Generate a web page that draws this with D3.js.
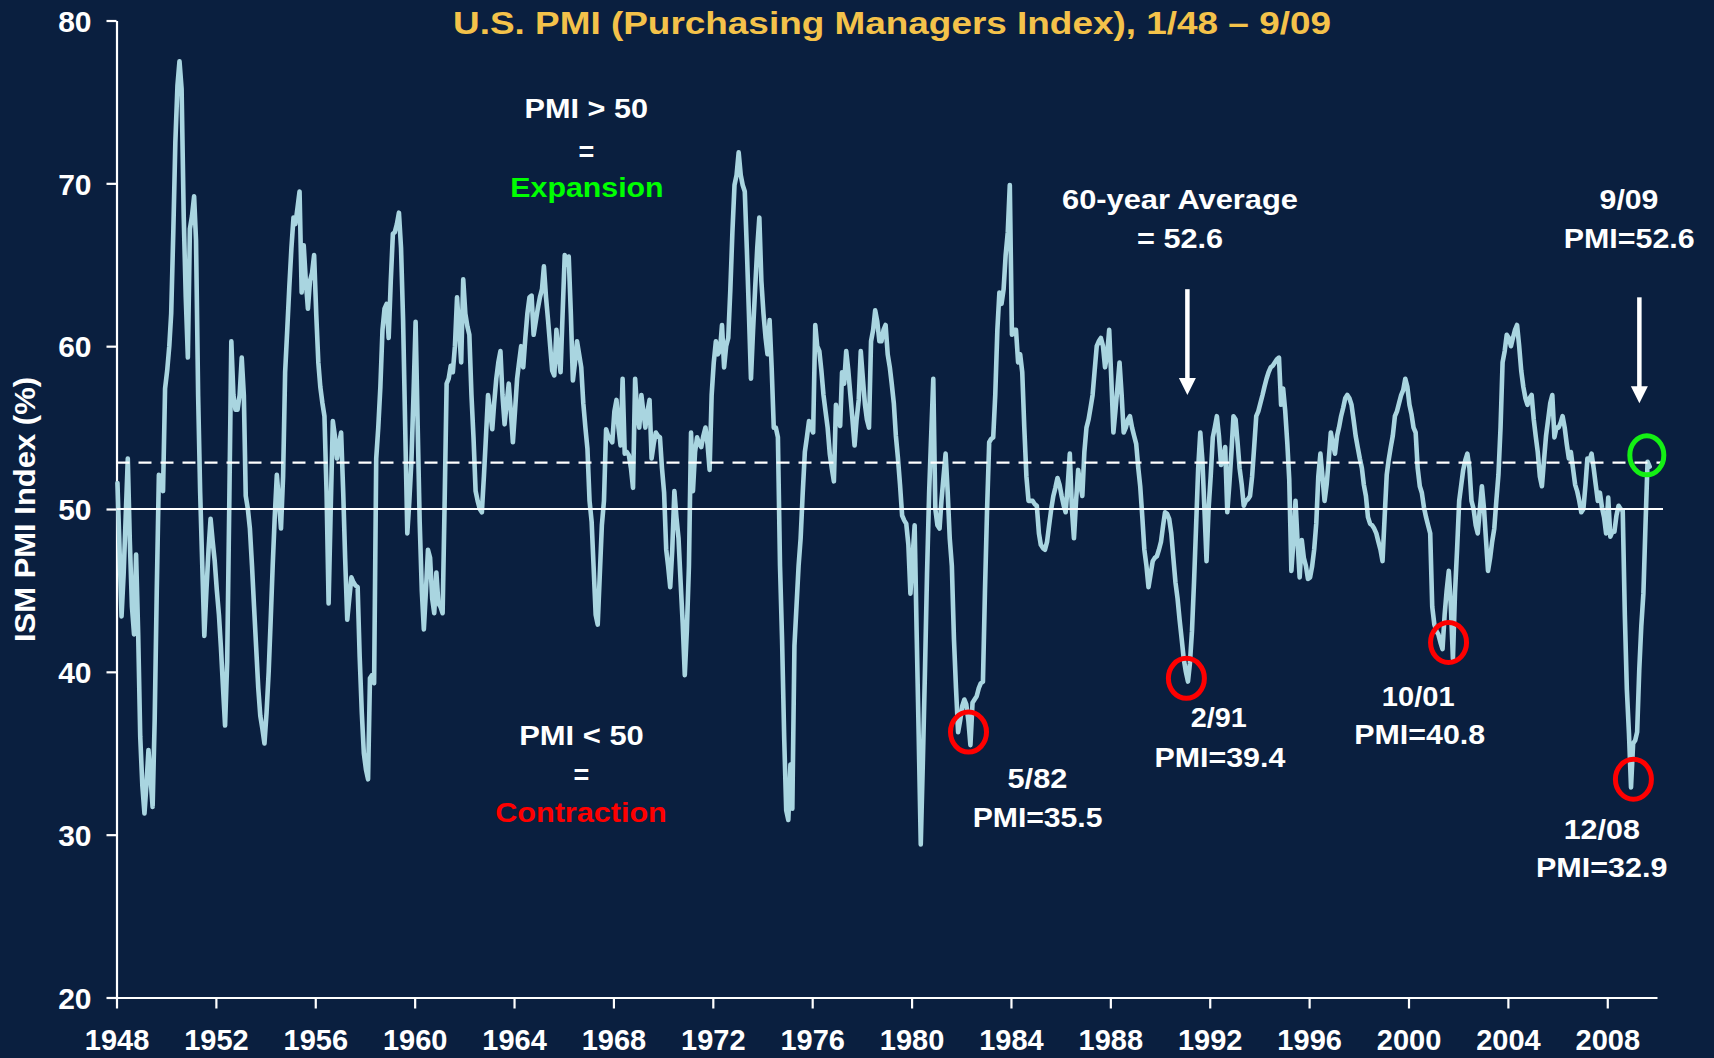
<!DOCTYPE html>
<html>
<head>
<meta charset="utf-8">
<script src="https://cdn.jsdelivr.net/npm/d3@7"></script>
<style>
  html, body { margin: 0; padding: 0; background: #0a1f3f; }
  svg { display: block; }
  text { font-family: "Liberation Sans", Arial, Helvetica, sans-serif; font-weight: bold; }
</style>
</head>
<body>
<svg id="chart" width="1714" height="1058"></svg>
<script>
// ---------------- DATA (monthly ISM PMI, 1/1948 - 9/2009) ----------------
const startYear = 1948;
const pmi1940s = [
  51.6, 47.5, 43.4, 46.0, 49.5, 53.1, 48.0, 44.0, 42.3, 47.2, 42.3, 36.0,   // 1948
  33.0, 31.3, 33.0, 35.2, 33.5, 31.7, 37.0, 45.0, 52.1, 52.0, 51.1, 57.4    // 1949
];
const pmi1950s = [
  58.5, 60.0, 62.0, 67.0, 72.5, 76.0, 77.5, 75.8, 68.0, 63.0, 59.3, 67.2,   // 1950
  68.0, 69.2, 66.5, 57.0, 51.0, 46.5, 42.2, 45.0, 47.5, 49.4, 48.0, 46.8,   // 1951
  45.0, 43.5, 41.5, 39.0, 36.7, 40.6, 50.0, 60.3, 57.0, 56.1, 56.1, 57.0,   // 1952
  59.3, 57.0, 50.8, 50.0, 48.8, 46.5, 44.0, 41.5, 39.0, 37.3, 36.5, 35.6,   // 1953
  37.5, 40.0, 43.0, 46.5, 49.5, 52.1, 50.5, 48.8, 52.0, 58.4, 61.0, 63.6,   // 1954
  66.0, 67.9, 67.5, 68.5, 69.5, 63.3, 66.2, 64.0, 62.3, 64.0, 64.5, 65.6,   // 1955
  62.0, 59.0, 57.5, 56.5, 55.7, 51.0, 44.2, 50.0, 55.4, 54.5, 53.1, 54.0,   // 1956
  54.7, 51.0, 47.0, 43.2, 44.5, 45.8, 45.5, 45.3, 45.2, 40.9, 37.5, 35.0,   // 1957
  34.0, 33.4, 39.6, 39.8, 39.3, 53.1, 55.0, 57.5, 61.0, 62.3, 62.6, 60.5,   // 1958
  64.0, 66.9, 67.0, 67.5, 68.2, 66.0, 61.6, 55.0, 48.5, 50.5, 53.0, 57.0    // 1959
];
const pmi1960s = [
  61.5, 55.0, 49.2, 45.0, 42.6, 45.0, 47.5, 47.0, 44.5, 43.6, 46.1, 44.2,   // 1960
  44.0, 43.6, 50.0, 57.7, 58.0, 58.8, 58.4, 60.0, 63.0, 61.0, 59.0, 64.1,   // 1961
  62.0, 61.2, 60.7, 57.0, 54.4, 51.1, 50.5, 50.0, 49.8, 52.0, 54.5, 57.0,   // 1962
  56.0, 54.9, 56.5, 58.0, 59.0, 59.7, 57.0, 55.2, 56.5, 57.7, 56.0, 54.1,   // 1963
  56.0, 58.0, 59.0, 60.0, 58.7, 60.5, 62.0, 63.0, 63.1, 60.7, 61.5, 62.3,   // 1964
  63.0, 63.5, 64.9, 63.0, 61.6, 60.0, 58.5, 58.2, 61.0, 59.5, 58.4, 62.0,   // 1965
  65.6, 65.0, 65.5, 62.0, 57.9, 59.0, 60.3, 59.5, 58.7, 56.5, 55.0, 53.7,   // 1966
  50.5, 49.2, 46.5, 43.5, 42.9, 46.0, 49.0, 50.5, 54.9, 54.5, 54.3, 54.1,   // 1967
  56.0, 56.7, 55.0, 53.9, 58.0, 53.4, 53.5, 53.3, 52.5, 51.3, 58.0, 56.0,   // 1968
  55.0, 57.0, 56.0, 55.0, 56.0, 56.7, 53.1, 54.0, 54.7, 54.5, 54.4, 52.5    // 1969
];
const pmi1970s = [
  51.0, 47.5, 46.5, 45.2, 47.5, 51.1, 49.5, 48.2, 45.5, 43.0, 39.8, 42.5,   // 1970
  46.5, 54.7, 51.1, 53.5, 54.4, 54.0, 53.8, 54.5, 55.0, 54.0, 52.4, 57.0,   // 1971
  59.0, 60.3, 59.5, 59.7, 61.3, 58.7, 60.0, 60.5, 63.5, 67.0, 69.9, 70.5,   // 1972
  71.9, 70.5, 69.9, 69.5, 66.0, 62.0, 58.0, 61.0, 63.6, 66.0, 67.9, 64.0,   // 1973
  62.0, 60.5, 59.5, 61.6, 58.7, 55.0, 55.0, 54.4, 46.5, 42.0, 36.0, 31.5,   // 1974
  30.9, 34.3, 31.6, 41.6, 44.0, 46.5, 48.2, 51.0, 53.5, 54.4, 55.4, 55.0,   // 1975
  54.7, 61.3, 60.0, 59.7, 58.5, 57.0, 56.0, 55.0, 53.4, 52.5, 51.7, 56.4,   // 1976
  55.5, 55.1, 58.4, 57.7, 59.7, 58.5, 57.0, 55.5, 53.9, 55.5, 56.7, 59.7,   // 1977
  58.0, 56.4, 55.5, 55.0, 60.3, 61.0, 62.2, 61.5, 60.3, 60.3, 61.0, 61.3,   // 1978
  59.5, 58.7, 57.7, 56.5, 54.5, 53.1, 51.5, 49.6, 49.3, 49.1, 47.8, 44.8    // 1979
];
const pmi1980s = [
  47.0, 49.0, 42.5, 36.0, 29.4, 34.5, 39.9, 46.0, 51.0, 54.5, 58.0, 50.0,   // 1980
  49.0, 48.8, 50.5, 52.0, 53.4, 51.0, 48.2, 46.5, 42.0, 39.0, 36.3, 37.0,   // 1981
  37.9, 38.3, 38.0, 37.0, 35.5, 38.1, 38.3, 38.5, 39.0, 39.3, 39.4, 45.0,   // 1982
  50.0, 54.1, 54.3, 54.4, 57.0, 61.0, 63.3, 62.6, 63.5, 65.6, 67.0, 69.9,   // 1983
  60.7, 61.0, 61.0, 59.0, 59.5, 58.4, 55.0, 52.0, 50.5, 50.5, 50.5, 50.3,   // 1984
  50.2, 48.5, 47.8, 47.6, 47.5, 48.0, 49.0, 50.0, 50.8, 51.3, 51.9, 51.5,   // 1985
  50.8, 50.2, 49.8, 51.5, 53.4, 50.0, 48.2, 50.5, 52.4, 51.5, 50.8, 53.5,   // 1986
  55.0, 55.5, 56.2, 57.0, 58.5, 60.0, 60.3, 60.5, 60.0, 58.7, 59.5, 61.0,   // 1987
  58.0, 54.7, 56.0, 57.5, 59.0, 57.0, 54.7, 55.0, 55.5, 55.7, 55.0, 54.5,   // 1988
  54.0, 52.5, 51.4, 49.5, 47.5, 46.5, 45.2, 46.0, 46.8, 47.0, 47.1, 47.5    // 1989
];
const pmi1990s = [
  48.0, 49.0, 49.8, 49.7, 49.4, 48.5, 47.0, 45.5, 44.5, 43.2, 42.0, 40.8,   // 1990
  40.0, 39.4, 40.5, 42.5, 45.5, 49.0, 52.5, 54.7, 53.0, 50.0, 46.8, 50.0,   // 1991
  52.0, 54.4, 55.0, 55.7, 54.5, 52.7, 53.0, 53.8, 49.8, 51.5, 53.5, 55.7,   // 1992
  55.5, 54.0, 52.5, 51.5, 50.2, 50.5, 50.6, 50.8, 52.0, 53.8, 55.7, 56.0,   // 1993
  56.5, 57.0, 57.5, 58.0, 58.4, 58.7, 58.8, 59.0, 59.2, 59.3, 56.4, 57.4,   // 1994
  56.0, 54.0, 51.8, 46.2, 48.0, 50.5, 48.0, 45.8, 48.1, 47.0, 46.5, 45.7,   // 1995
  45.8, 46.5, 47.5, 49.1, 52.0, 53.4, 52.0, 50.5, 51.5, 53.0, 54.7, 54.0,   // 1996
  53.4, 54.5, 55.0, 55.7, 56.2, 56.8, 57.0, 56.8, 56.4, 55.5, 54.5, 53.8,   // 1997
  53.1, 52.5, 51.5, 50.8, 49.5, 49.1, 49.0, 48.8, 48.5, 48.0, 47.5, 46.8,   // 1998
  49.5, 52.1, 53.0, 53.8, 54.5, 55.7, 56.0, 56.5, 57.0, 57.3, 58.0, 57.5    // 1999
];
const pmi2000s = [
  56.4, 55.8, 55.0, 54.7, 52.5, 51.4, 51.0, 50.1, 49.5, 49.0, 48.5, 44.0,   // 2000
  42.9, 42.5, 42.3, 41.8, 41.4, 43.5, 45.0, 46.2, 44.0, 40.8, 44.9, 47.5,   // 2001
  50.5, 51.5, 52.4, 53.0, 53.4, 52.5, 50.5, 50.0, 49.0, 48.5, 50.0, 51.4,   // 2002
  50.0, 48.0, 46.2, 47.0, 48.0, 48.8, 50.5, 52.1, 55.0, 59.0, 59.7, 60.7,   // 2003
  60.5, 60.0, 60.5, 61.0, 61.3, 60.0, 58.5, 57.5, 56.8, 56.4, 56.8, 57.0,   // 2004
  55.5, 54.4, 53.5, 52.0, 51.4, 53.0, 54.5, 55.5, 56.5, 57.0, 54.4, 55.0,   // 2005
  55.0, 55.3, 55.7, 55.0, 54.0, 53.1, 53.5, 52.5, 51.5, 51.1, 50.5, 49.8,   // 2006
  50.0, 51.5, 53.1, 53.0, 53.4, 52.5, 51.5, 50.5, 51.0, 50.1, 49.5, 48.5,   // 2007
  50.7, 48.3, 48.6, 48.6, 49.6, 50.2, 50.0, 49.9, 43.5, 38.9, 36.2, 32.9,   // 2008
  35.6, 35.8, 36.3, 40.1, 42.8, 44.8, 48.9, 52.9, 52.6                      // 2009
];

const yTicks = [20, 30, 40, 50, 60, 70, 80];
const xTickYears = [1948, 1952, 1956, 1960, 1964, 1968, 1972, 1976, 1980, 1984, 1988, 1992, 1996, 2000, 2004, 2008];
const neutralLevel = 50;
const averageLevel = 52.85;   // drawn position of the 60-year average line

// circled points: fractional year of circle centre, PMI value of circle centre, kind
const circleYears  = [1982.29, 1991.06, 2001.61, 2009.05, 2009.59];
const circleValues = [36.3, 39.6, 41.8, 33.4, 53.3];
const circleKinds  = ["low", "low", "low", "low", "now"];

// arrows: fractional year, top value, tip value
const arrowYears = [1991.10, 2009.29];
const arrowTops  = [63.5, 63.0];
const arrowTips  = [57.0, 56.5];

// ---------------- CHART ----------------
const W = 1714, H = 1058;
const svg = d3.select("#chart");
svg.append("rect").attr("width", W).attr("height", H).attr("fill", "#0a1f3f");

const pmi = [].concat(pmi1940s, pmi1950s, pmi1960s, pmi1970s, pmi1980s, pmi1990s, pmi2000s);
const data = pmi.map((v, i) => ({ date: new Date(startYear, i, 15), value: v }));

const x = d3.scaleTime()
  .domain([new Date(1948, 0, 1), new Date(2010, 0, 1)])
  .range([116.5, 1657]);
const y = d3.scaleLinear().domain([20, 80]).range([997.5, 20.5]);

const fy = f => {
  const yr = Math.floor(f);
  const a = new Date(yr, 0, 1), b = new Date(yr + 1, 0, 1);
  return new Date(+a + (f - yr) * (b - a));
};

// axes
const yAxis = d3.axisLeft(y).tickValues(yTicks).tickSize(10).tickSizeOuter(0).tickPadding(15);
const gy = svg.append("g").attr("transform", "translate(116.5,0)").call(yAxis);
const xAxis = d3.axisBottom(x)
  .tickValues(xTickYears.map(yv => new Date(yv, 0, 1)))
  .tickFormat(d3.timeFormat("%Y"))
  .tickSize(11).tickSizeOuter(0).tickPadding(21);
const gx = svg.append("g").attr("transform", "translate(0,997.5)").call(xAxis);

[gy, gx].forEach(g => {
  g.select(".domain").attr("stroke", "#ffffff").attr("stroke-width", 2.2);
  g.selectAll(".tick line").attr("stroke", "#ffffff").attr("stroke-width", 2.2);
  g.selectAll(".tick text").attr("fill", "#ffffff")
    .style("font-weight", "bold")
    .style("font-family", '"Liberation Sans", Arial, sans-serif');
});
gy.selectAll(".tick text").style("font-size", "30px").attr("dy", "0.36em");
gx.selectAll(".tick text").style("font-size", "29px");

// data line
const line = d3.line().x(d => x(d.date)).y(d => y(d.value));
svg.append("path").datum(data)
  .attr("d", line)
  .attr("fill", "none")
  .attr("stroke", "#a9d5e0")
  .attr("stroke-width", 4.6)
  .attr("stroke-linejoin", "round")
  .attr("stroke-linecap", "round");

// reference lines
const refRight = x.range()[1] + 6;
svg.append("line")
  .attr("x1", x.range()[0]).attr("x2", refRight)
  .attr("y1", y(neutralLevel)).attr("y2", y(neutralLevel))
  .attr("stroke", "#ffffff").attr("stroke-width", 2.2);
svg.append("line")
  .attr("x1", x.range()[0]).attr("x2", refRight)
  .attr("y1", y(averageLevel)).attr("y2", y(averageLevel))
  .attr("stroke", "#ffffff").attr("stroke-width", 2.2)
  .attr("stroke-dasharray", "13,9");

// circles
svg.selectAll("ellipse.mark")
  .data(circleYears.map((t, i) => ({ t, v: circleValues[i], k: circleKinds[i] })))
  .enter().append("ellipse")
  .attr("class", "mark")
  .attr("cx", d => x(fy(d.t)))
  .attr("cy", d => y(d.v))
  .attr("rx", d => d.k === "now" ? 17 : 18)
  .attr("ry", d => d.k === "now" ? 19.5 : 20)
  .attr("fill", "none")
  .attr("stroke", d => d.k === "now" ? "#14f014" : "#ff0000")
  .attr("stroke-width", 5);

// arrows
arrowYears.forEach((t, i) => {
  const ax = x(fy(t));
  const yt = y(arrowTops[i]), yp = y(arrowTips[i]);
  svg.append("line")
    .attr("x1", ax).attr("x2", ax).attr("y1", yt).attr("y2", yp - 14)
    .attr("stroke", "#ffffff").attr("stroke-width", 4.5);
  svg.append("path")
    .attr("d", `M${ax - 8.5},${yp - 17} L${ax + 8.5},${yp - 17} L${ax},${yp} Z`)
    .attr("fill", "#ffffff");
});

// text helper
function label(str, cx, base, size, width, fill) {
  const t = svg.append("text")
    .attr("x", cx).attr("y", base)
    .attr("text-anchor", "middle")
    .style("font-size", size + "px")
    .attr("fill", fill || "#ffffff")
    .text(str);
  if (width) t.attr("textLength", width).attr("lengthAdjust", "spacingAndGlyphs");
  return t;
}

// title
label("U.S. PMI (Purchasing Managers Index), 1/48 \u2013 9/09", 892, 34, 32, 878, "#f4c24a");

// y-axis title
svg.append("text")
  .attr("transform", "translate(35,509.5) rotate(-90)")
  .attr("text-anchor", "middle")
  .style("font-size", "29px")
  .attr("fill", "#ffffff")
  .attr("textLength", 265).attr("lengthAdjust", "spacingAndGlyphs")
  .text("ISM PMI Index (%)");

// expansion / contraction notes
label("PMI > 50", 586.3, 118.3, 27, 123.4);
label("=", 586.3, 160.5, 27, null);
label("Expansion", 587, 197, 27, 153.3, "#00ff00");
label("PMI < 50", 581.5, 745, 27, 124.6);
label("=", 581.5, 784, 27, null);
label("Contraction", 581, 822, 27, 171.6, "#ff0000");

// average and latest reading
label("60-year Average", 1180, 209, 28, 236);
label("= 52.6", 1180, 248, 28, 86);
label("9/09", 1629, 209, 28, 58.8);
label("PMI=52.6", 1629.2, 248, 28, 130.8);

// troughs
label("5/82", 1037.4, 788, 28, 59.7);
label("PMI=35.5", 1037.6, 827, 28, 129.8);
label("2/91", 1218.8, 726.7, 28, 56);
label("PMI=39.4", 1219.9, 766.7, 28, 130.9);
label("10/01", 1418.2, 705.7, 28, 72.7);
label("PMI=40.8", 1419.7, 744.3, 28, 130.8);
label("12/08", 1601.8, 839, 28, 76.3);
label("PMI=32.9", 1601.7, 876.7, 28, 131.4);
</script>
</body>
</html>
